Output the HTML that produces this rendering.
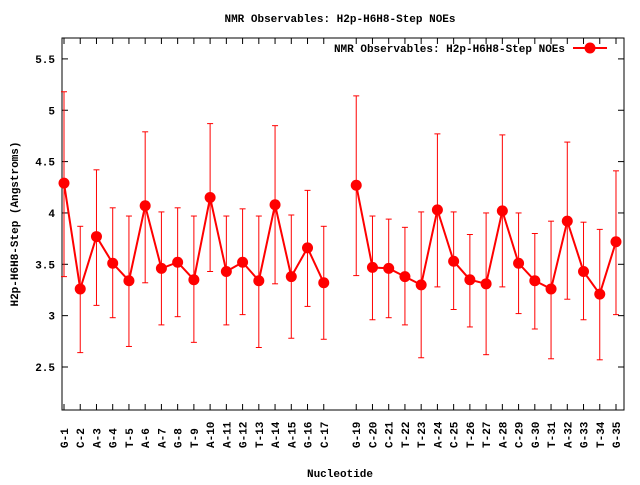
<!DOCTYPE html>
<html><head><meta charset="utf-8"><style>
html,body{margin:0;padding:0;background:#fff}
svg text{font-family:"Liberation Mono","DejaVu Sans Mono",monospace;font-size:11px;font-weight:bold;fill:#000}
</style></head><body>
<svg id="s" width="640" height="480" xmlns="http://www.w3.org/2000/svg">
<rect x="0" y="0" width="640" height="480" fill="#fff"/>
<text x="340" y="22" text-anchor="middle">NMR Observables: H2p-H6H8-Step NOEs</text>
<text x="340" y="477" text-anchor="middle">Nucleotide</text>
<text transform="translate(18,224) rotate(-90)" text-anchor="middle">H2p-H6H8-Step (Angstroms)</text>
<rect x="62" y="38" width="562" height="372" fill="none" stroke="#000" stroke-width="1"/>
<g id="g"></g>
<text x="565" y="52" text-anchor="end">NMR Observables: H2p-H6H8-Step NOEs</text>
<line x1="573" y1="48" x2="607" y2="48" stroke="#f00" stroke-width="2"/>
<circle cx="590" cy="48" r="5.5" fill="#f00"/>
</svg>
<script>
var d=[[1,4.29,5.18,3.38],[2,3.26,3.87,2.64],[3,3.77,4.42,3.10],[4,3.51,4.05,2.98],[5,3.34,3.97,2.70],[6,4.07,4.79,3.32],[7,3.46,4.01,2.91],[8,3.52,4.05,2.99],[9,3.35,3.97,2.74],[10,4.15,4.87,3.43],[11,3.43,3.97,2.91],[12,3.52,4.04,3.01],[13,3.34,3.97,2.69],[14,4.08,4.85,3.31],[15,3.38,3.98,2.78],[16,3.66,4.22,3.09],[17,3.32,3.87,2.77],[19,4.27,5.14,3.39],[20,3.47,3.97,2.96],[21,3.46,3.94,2.98],[22,3.38,3.86,2.91],[23,3.30,4.01,2.59],[24,4.03,4.77,3.28],[25,3.53,4.01,3.06],[26,3.35,3.79,2.89],[27,3.31,4.00,2.62],[28,4.02,4.76,3.28],[29,3.51,4.00,3.02],[30,3.34,3.80,2.87],[31,3.26,3.92,2.58],[32,3.92,4.69,3.16],[33,3.43,3.91,2.96],[34,3.21,3.84,2.57],[35,3.72,4.41,3.01]];
var lab=["G-1","C-2","A-3","G-4","T-5","A-6","A-7","G-8","T-9","A-10","A-11","G-12","T-13","A-14","A-15","G-16","C-17","","G-19","C-20","C-21","T-22","T-23","A-24","C-25","T-26","T-27","A-28","C-29","G-30","T-31","A-32","G-33","T-34","G-35"];
function X(n){return 64+(n-1)*16.235}
function Y(v){return 367-(v-2.5)*102.7}
var h='';
[2.5,3,3.5,4,4.5,5,5.5].forEach(function(v){var y=Y(v);h+='<line x1="62" y1="'+y+'" x2="68" y2="'+y+'" stroke="#000"/><line x1="618" y1="'+y+'" x2="624" y2="'+y+'" stroke="#000"/><text x="55" y="'+(y+4)+'" text-anchor="end">'+v+'</text>';});
for(var n=1;n<=35;n++){if(!lab[n-1])continue;var x=X(n);h+='<line x1="'+x+'" y1="410" x2="'+x+'" y2="404" stroke="#000"/><line x1="'+x+'" y1="38" x2="'+x+'" y2="44" stroke="#000"/><text transform="translate('+(x+4)+',448) rotate(-90)">'+lab[n-1]+'</text>';}
d.forEach(function(p){var x=X(p[0]);h+='<line x1="'+x+'" y1="'+Y(p[2])+'" x2="'+x+'" y2="'+Y(p[3])+'" stroke="#f00"/><line x1="'+(x-3)+'" y1="'+Y(p[2])+'" x2="'+(x+3)+'" y2="'+Y(p[2])+'" stroke="#f00"/><line x1="'+(x-3)+'" y1="'+Y(p[3])+'" x2="'+(x+3)+'" y2="'+Y(p[3])+'" stroke="#f00"/>';});
var a=[],b=[];d.forEach(function(p){(p[0]<18?a:b).push(X(p[0])+','+Y(p[1]));});
h+='<polyline points="'+a.join(' ')+'" fill="none" stroke="#f00" stroke-width="2"/><polyline points="'+b.join(' ')+'" fill="none" stroke="#f00" stroke-width="2"/>';
d.forEach(function(p){h+='<circle cx="'+X(p[0])+'" cy="'+Y(p[1])+'" r="5.5" fill="#f00"/>';});
document.getElementById('g').innerHTML=h;
</script>
</body></html>
